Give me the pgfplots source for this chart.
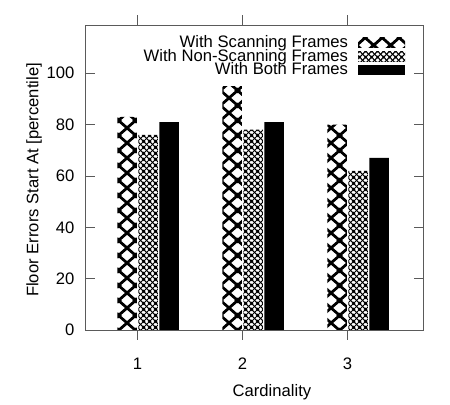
\documentclass[border=0pt]{standalone}
\usepackage{fontspec}
\setmainfont{Liberation Sans}
\usepackage{pgfplots}
\pgfplotsset{compat=1.18}
\usetikzlibrary{patterns.meta}
\definecolor{framegray}{HTML}{5A5A5A}
\newcommand\chartfont{\fontsize{16.7}{18}\selectfont}

% big X hatch (scanning frames)
\tikzdeclarepattern{
  name=bigcross,
  type=uncolored,
  bottom left={(0bp,0bp)},
  top right={(17bp,15bp)},
  tile size={(17bp,15bp)},
  code={
    \draw[line width=2.9bp] (-17bp,-30bp) -- (34bp,15bp);
    \draw[line width=2.9bp] (-17bp,-15bp) -- (34bp,30bp);
    \draw[line width=2.9bp] (-17bp,0bp) -- (34bp,45bp);
    \draw[line width=2.9bp] (-17bp,15bp) -- (34bp,-30bp);
    \draw[line width=2.9bp] (-17bp,30bp) -- (34bp,-15bp);
    \draw[line width=2.9bp] (-17bp,45bp) -- (34bp,0bp);
  }
}
% fine crosshatch (non-scanning frames)
\tikzdeclarepattern{
  name=smallcross,
  type=uncolored,
  bottom left={(0bp,0bp)},
  top right={(6bp,6bp)},
  tile size={(6bp,6bp)},
  code={
    \draw[line width=1.2bp] (-6bp,-12bp) -- (12bp,6bp);
    \draw[line width=1.2bp] (-6bp,-6bp) -- (12bp,12bp);
    \draw[line width=1.2bp] (-6bp,0bp) -- (12bp,18bp);
    \draw[line width=1.2bp] (-6bp,6bp) -- (12bp,-12bp);
    \draw[line width=1.2bp] (-6bp,12bp) -- (12bp,-6bp);
    \draw[line width=1.2bp] (-6bp,18bp) -- (12bp,0bp);
  }
}

\begin{document}
\begin{tikzpicture}
\path[use as bounding box] (0,0) rectangle (450bp,405bp);
\begin{axis}[
  at={(85bp,75bp)}, anchor=south west,
  scale only axis, width=338bp, height=305bp,
  xmin=0.5, xmax=3.719, ymin=0, ymax=118.8,
  xtick={1,2,3}, ytick={0,20,...,100},
  tick align=inside, major tick length=9.5bp,
  axis line style={framegray, line width=0.9bp},
  every tick/.style={framegray, line width=0.9bp},
  font=\chartfont,
  /pgf/number format/assume math mode=true,
  yticklabel style={anchor=east, inner sep=0pt, xshift=-10.5bp},
  xticklabel style={anchor=base, inner sep=0pt, yshift=-30bp},
  xlabel={Cardinality},
  ylabel={Floor Errors Start At [percentile]},
  xlabel style={at={(axis description cs:0.553,-0.2164)}, anchor=base, inner sep=0pt},
  ylabel style={at={(axis description cs:-0.1376,0.492)}, anchor=base, inner sep=0pt},
  ybar, bar width=19.5bp,
  legend style={draw=none, fill=none, at={(axis description cs:1,1)},
    anchor=north east, xshift=-18bp, yshift=-11bp,
    inner sep=0pt, outer sep=0pt, row sep=0pt, column sep=10bp,
    nodes={inner sep=0pt, text height=11.6bp, text depth=2.1bp},
    font=\chartfont},
  legend cell align=right, legend plot pos=right,
  mylegend/.style={legend image code/.code={\fill[##1] (0bp,-4.5bp) rectangle (47bp,5bp);}},
]
\addplot[draw=none, pattern=bigcross, bar shift=-10.5bp, mylegend]
  coordinates {(1,83) (2,95) (3,80)};
\addplot[draw=none, pattern=smallcross, bar shift=10.5bp, mylegend]
  coordinates {(1,76) (2,78) (3,62)};
\addplot[draw=none, fill=black, bar shift=31.5bp, mylegend]
  coordinates {(1,81) (2,81) (3,67)};
\legend{With Scanning Frames, With Non-Scanning Frames, With Both Frames}
\end{axis}
\end{tikzpicture}
\end{document}
